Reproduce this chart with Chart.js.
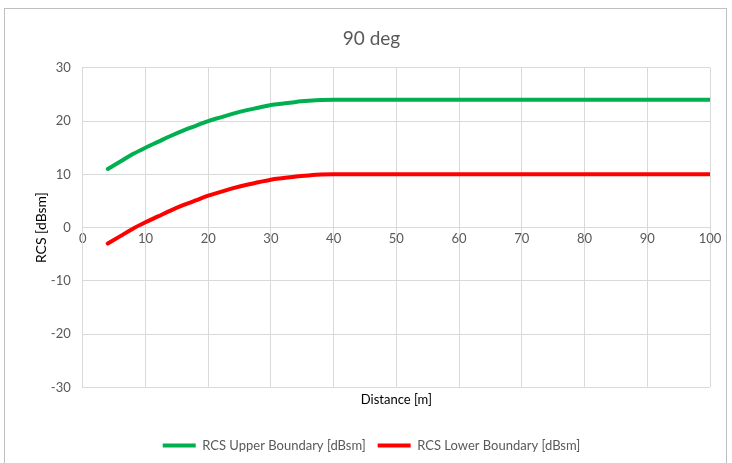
<!DOCTYPE html>
<html>
<head>
<meta charset="utf-8">
<script src="https://cdn.jsdelivr.net/npm/chart.js@4"></script>
<style>
  html, body { margin: 0; padding: 0; background: #fff; }
  #wrap { width: 732px; height: 463px; position: relative; }
</style>
</head>
<body>
<div id="wrap"><canvas id="rcs"></canvas></div>
<script>
const distance = [4, 6, 8, 10, 12, 14, 16, 18, 20, 22, 24, 26, 28, 30, 32, 34, 36, 38, 40, 50, 60, 70, 80, 90, 100];
const upper = [11, 12.4, 13.8, 15, 16.1, 17.2, 18.2, 19.1, 20, 20.7, 21.4, 22, 22.5, 23, 23.3, 23.6, 23.8, 23.95, 24, 24, 24, 24, 24, 24, 24];
const lower = [-3, -1.6, -0.2, 1, 2.1, 3.2, 4.2, 5.1, 6, 6.7, 7.4, 8, 8.5, 9, 9.3, 9.6, 9.8, 9.95, 10, 10, 10, 10, 10, 10, 10];
const xTicks = [0, 10, 20, 30, 40, 50, 60, 70, 80, 90, 100];
const yTicks = [-30, -20, -10, 0, 10, 20, 30];

const toPoints = (ys) => distance.map((x, i) => ({ x: x, y: ys[i] }));

const ctx = document.getElementById("rcs");

Chart.defaults.font.family = "Lato";
Chart.defaults.color = "#595959";

// outer frame like the spreadsheet chart border
const frame = {
  id: "frame",
  beforeDraw(chart) {
    const c = chart.ctx;
    c.save();
    c.strokeStyle = "#bfbfbf";
    c.lineWidth = 1;
    c.strokeRect(4.5, 8.5, 722, 470);
    c.restore();
  },
};

new Chart(ctx, {
  type: "scatter",
  data: {
    datasets: [
      {
        label: "RCS Upper Boundary [dBsm]",
        data: toPoints(upper),
        showLine: true,
        borderColor: "#00b050",
        backgroundColor: "#00b050",
        borderWidth: 4,
        pointRadius: 0,
        cubicInterpolationMode: "monotone",
        borderCapStyle: "round",
      },
      {
        label: "RCS Lower Boundary [dBsm]",
        data: toPoints(lower),
        showLine: true,
        borderColor: "#ff0000",
        backgroundColor: "#ff0000",
        borderWidth: 4,
        pointRadius: 0,
        cubicInterpolationMode: "monotone",
        borderCapStyle: "round",
      },
    ],
  },
  options: {
    responsive: true,
    maintainAspectRatio: false,
    animation: false,
    layout: {
      padding: { left: 33, right: 22, top: 19, bottom: 1 },
    },
    plugins: {
      title: {
        display: true,
        text: "90 deg",
        color: "#595959",
        font: { size: 19, weight: "normal" },
        padding: { top: 8, bottom: 18 },
      },
      legend: {
        position: "bottom",
        labels: {
          boxWidth: 33,
          boxHeight: 4,
          font: { size: 13 },
          color: "#595959",
          padding: 12,
          generateLabels: (chart) =>
            Chart.defaults.plugins.legend.labels.generateLabels(chart).map((l) => {
              l.lineWidth = 0;
              return l;
            }),
        },
      },
      tooltip: { enabled: false },
    },
    scales: {
      x: {
        type: "linear",
        min: 0,
        max: 100,
        afterBuildTicks: (axis) => { axis.ticks = xTicks.map((v) => ({ value: v })); },
        ticks: { display: false },
        grid: { color: "#d9d9d9", drawTicks: false },
        border: { display: false },
        title: {
          display: true,
          text: "Distance [m]",
          color: "#000",
          font: { size: 13 },
          padding: { top: 5, bottom: 19 },
        },
      },
      xLabels: {
        type: "linear",
        position: { y: 0 },
        min: 0,
        max: 100,
        afterBuildTicks: (axis) => { axis.ticks = xTicks.map((v) => ({ value: v })); },
        ticks: { font: { size: 13 }, color: "#595959", padding: 3 },
        grid: { display: false, drawTicks: false },
        border: { color: "#d9d9d9" },
      },
      y: {
        min: -30,
        max: 30,
        afterBuildTicks: (axis) => { axis.ticks = yTicks.map((v) => ({ value: v })); },
        ticks: { font: { size: 13 }, color: "#595959", padding: 12 },
        grid: { color: "#d9d9d9", drawTicks: false },
        border: { color: "#d9d9d9" },
        title: {
          display: true,
          text: "RCS [dBsm]",
          color: "#000",
          font: { size: 14 },
          padding: { top: 0, bottom: -11 },
        },
      },
    },
  },
  plugins: [frame],
});
</script>
</body>
</html>
